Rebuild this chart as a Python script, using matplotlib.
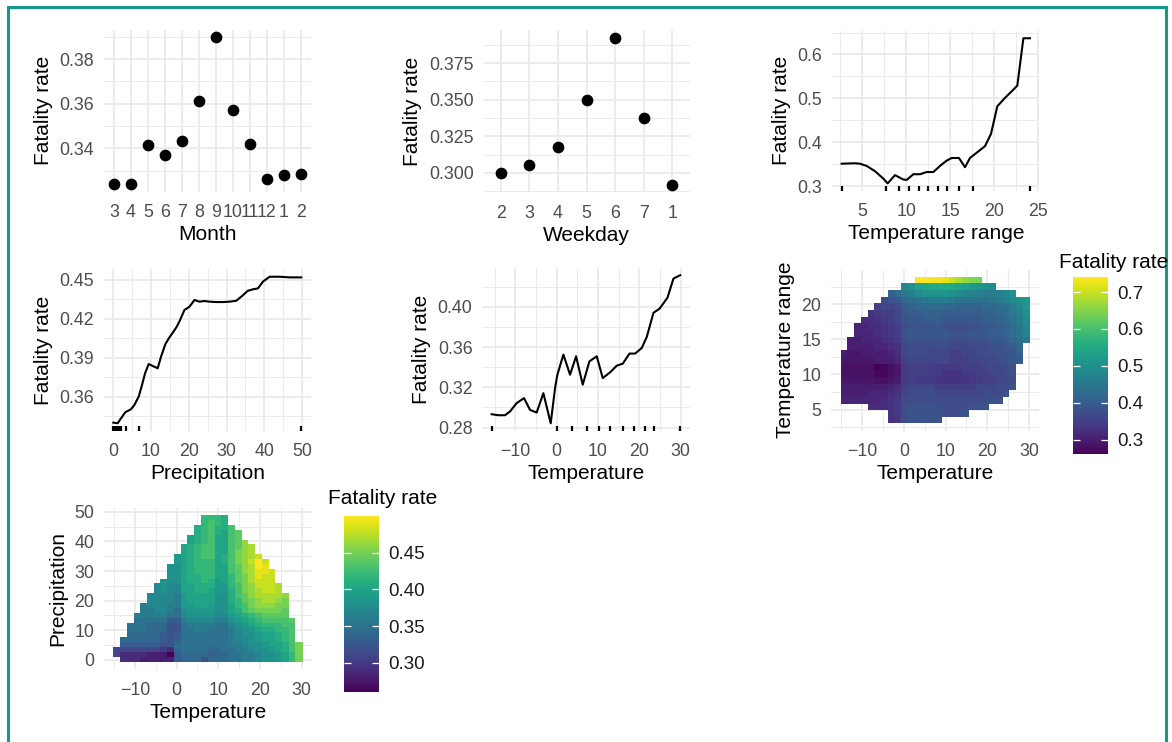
import numpy as np
import matplotlib
matplotlib.use("Agg")
import matplotlib.pyplot as plt
from matplotlib.ticker import MultipleLocator, AutoMinorLocator, FormatStrFormatter
from matplotlib.patches import Rectangle

plt.rcParams["font.family"] = ["Liberation Sans", "DejaVu Sans"]

# ---- partial dependence values ----
month_labels = ["3", "4", "5", "6", "7", "8", "9", "10", "11", "12", "1", "2"]
month_rate = [0.3239, 0.3239, 0.3413, 0.3369, 0.3433, 0.3612, 0.3898, 0.3571, 0.3419, 0.3264, 0.3279, 0.3286]

weekday_labels = ["2", "3", "4", "5", "6", "7", "1"]
weekday_rate = [0.3000, 0.3057, 0.3175, 0.3498, 0.3924, 0.3373, 0.2920]

trange_x = [2.65, 4.17, 4.73, 5.49, 6.44, 7.39, 7.88, 8.71, 9.66, 10.04, 10.8, 11.55, 12.31, 13.07, 13.83,
            14.58, 15.15, 15.98, 16.67, 17.23, 17.99, 18.94, 19.62, 20.34, 21.21, 21.97, 22.61, 23.3, 24.05]
trange_y = [0.351, 0.352, 0.351, 0.346, 0.334, 0.317, 0.306, 0.325, 0.315, 0.314, 0.327, 0.327, 0.332, 0.332, 0.346,
            0.358, 0.364, 0.364, 0.343, 0.364, 0.376, 0.391, 0.419, 0.482, 0.501, 0.516, 0.529, 0.637, 0.637]
trange_rug = [2.65, 7.69, 9.2, 10.34, 11.48, 12.5, 13.56, 14.66, 15.98, 17.54, 24.05]

precip_x = [0, 1.15, 2.04, 3.19, 4.69, 5.58, 6.73, 7.61, 8.41, 9.38, 10.44, 11.77, 12.65, 13.81, 14.87, 15.75,
            16.81, 17.7, 18.85, 20.18, 21.5, 22.83, 24.16, 25.49, 27.26, 29.03, 30.8, 32.57, 33.89, 35.66,
            36.99, 38.32, 39.65, 41.42, 44.07, 46.73, 49.82]
precip_y = [0.340, 0.3395, 0.3433, 0.348, 0.3503, 0.3536, 0.360, 0.369, 0.3779, 0.3851, 0.3836, 0.3818, 0.3908,
            0.4005, 0.4056, 0.4092, 0.4138, 0.419, 0.4267, 0.4292, 0.4344, 0.4331, 0.4336, 0.4331, 0.4328,
            0.4328, 0.4331, 0.4338, 0.4369, 0.4415, 0.4426, 0.4433, 0.4485, 0.4523, 0.4523, 0.4518, 0.4518]
precip_rug = [0, 0.3, 0.6, 0.9, 1.2, 1.5, 2.0, 3.4, 6.9, 49.8]

temp_x = [-15.76, -14.14, -12.53, -11.31, -9.7, -7.92, -6.46, -4.85, -3.23, -1.45, -0.4, 0.16, 1.62, 3.23,
          4.69, 6.3, 7.92, 9.7, 11.15, 12.93, 14.55, 16.0, 17.62, 18.99, 20.6, 21.82, 23.43, 24.89, 26.83,
          28.28, 29.9]
temp_y = [0.2933, 0.2923, 0.2923, 0.296, 0.3043, 0.3093, 0.2976, 0.295, 0.3142, 0.2843, 0.3192, 0.3325,
          0.3525, 0.3325, 0.3508, 0.3226, 0.3458, 0.3508, 0.3292, 0.3349, 0.3415, 0.3435, 0.3535, 0.3535,
          0.3591, 0.3701, 0.394, 0.398, 0.409, 0.428, 0.4313]
temp_rug = [-15.76, 0.16, 3.8, 7.27, 10.34, 12.93, 16.0, 18.75, 21.41, 23.6, 29.9]

# 2-D grids (fatality rate x100, 0 = outside the convex hull)
temp_grid = [-14.4, -12.8, -11.2, -9.5, -7.9, -6.3, -4.7, -3.1, -1.4, 0.2, 1.8, 3.4, 5.1, 6.7,
             8.3, 9.9, 11.5, 13.2, 14.8, 16.4, 18.0, 19.6, 21.3, 22.9, 24.5, 26.1, 27.7, 29.4]
trange_grid = [3.5, 4.4, 5.4, 6.3, 7.3, 8.2, 9.2, 10.1, 11.1, 12.0, 13.0, 13.9, 14.9, 15.8, 16.8,
               17.7, 18.7, 19.6, 20.6, 21.5, 22.5, 23.4]
precip_grid = [0.2, 1.9, 3.5, 5.2, 6.8, 8.5, 10.1, 11.8, 13.4, 15.1, 16.7, 18.4, 20.0, 21.7, 23.3,
               25.0, 26.6, 28.3, 29.9, 31.6, 33.2, 34.9, 36.5, 38.2, 39.8, 41.5, 43.1, 44.8, 46.4, 48.1]

temp_trange_rate = [  # bottom row first
    [0, 0, 0, 0, 0, 0, 0, 33, 34, 37, 38, 38, 38, 38, 38, 0, 0, 0, 0, 0, 0, 0, 0, 0, 0, 0, 0, 0],
    [0, 0, 0, 0, 0, 0, 0, 33, 34, 37, 38, 38, 38, 38, 38, 37, 37, 37, 38, 0, 0, 0, 0, 0, 0, 0, 0, 0],
    [0, 0, 0, 0, 32, 32, 32, 33, 34, 37, 38, 38, 38, 38, 37, 37, 37, 37, 37, 38, 38, 38, 0, 0, 0, 0, 0, 0],
    [31, 31, 31, 31, 31, 31, 32, 33, 34, 37, 37, 37, 37, 37, 37, 37, 37, 37, 37, 37, 37, 37, 38, 38, 0, 0, 0, 0],
    [30, 30, 30, 30, 31, 31, 31, 32, 33, 36, 37, 37, 37, 37, 36, 36, 36, 36, 36, 36, 36, 37, 37, 37, 38, 0, 0, 0],
    [30, 30, 30, 30, 30, 30, 30, 31, 32, 35, 36, 36, 36, 36, 35, 35, 35, 35, 35, 35, 36, 36, 36, 37, 37, 38, 0, 0],
    [29, 29, 29, 29, 29, 28, 28, 29, 30, 34, 35, 34, 34, 34, 33, 33, 33, 33, 33, 34, 34, 35, 35, 36, 36, 37, 0, 0],
    [28, 28, 28, 28, 28, 27, 27, 28, 29, 34, 35, 35, 35, 34, 34, 33, 33, 33, 34, 34, 35, 35, 36, 36, 37, 38, 0, 0],
    [28, 28, 28, 28, 28, 26, 27, 28, 29, 34, 35, 35, 35, 35, 34, 34, 34, 34, 35, 35, 35, 36, 36, 37, 37, 38, 0, 0],
    [29, 29, 29, 29, 29, 30, 30, 30, 31, 35, 36, 36, 36, 36, 36, 36, 35, 35, 35, 36, 36, 36, 37, 37, 38, 39, 40, 0],
    [30, 29, 29, 30, 30, 30, 30, 31, 32, 36, 37, 37, 37, 36, 36, 36, 35, 35, 36, 36, 37, 37, 37, 38, 38, 39, 41, 0],
    [0, 30, 30, 30, 30, 31, 31, 32, 33, 36, 37, 37, 37, 37, 37, 37, 36, 36, 36, 37, 37, 37, 38, 38, 39, 40, 42, 0],
    [0, 30, 30, 31, 31, 31, 32, 33, 34, 37, 38, 38, 38, 38, 38, 38, 37, 37, 37, 38, 38, 38, 39, 39, 40, 42, 43, 45],
    [0, 0, 31, 31, 31, 32, 33, 34, 35, 38, 39, 39, 39, 39, 39, 39, 38, 38, 38, 39, 39, 39, 40, 40, 41, 43, 45, 47],
    [0, 0, 31, 31, 32, 32, 33, 34, 35, 37, 38, 38, 38, 38, 39, 38, 37, 37, 37, 38, 38, 39, 39, 40, 41, 43, 45, 48],
    [0, 0, 0, 32, 32, 33, 34, 35, 36, 38, 39, 39, 40, 40, 40, 39, 39, 39, 39, 39, 39, 40, 40, 41, 42, 44, 46, 49],
    [0, 0, 0, 0, 33, 34, 35, 35, 36, 39, 40, 40, 41, 41, 41, 40, 40, 40, 40, 40, 40, 41, 41, 42, 43, 45, 47, 50],
    [0, 0, 0, 0, 0, 35, 36, 36, 37, 40, 41, 42, 42, 43, 43, 42, 42, 41, 41, 41, 41, 42, 42, 43, 44, 46, 48, 51],
    [0, 0, 0, 0, 0, 0, 37, 38, 39, 42, 43, 44, 45, 46, 46, 46, 45, 44, 44, 44, 44, 44, 45, 46, 47, 49, 50, 52],
    [0, 0, 0, 0, 0, 0, 0, 41, 43, 45, 47, 49, 50, 51, 51, 51, 50, 49, 48, 47, 47, 46, 46, 47, 48, 50, 0, 0],
    [0, 0, 0, 0, 0, 0, 0, 0, 0, 48, 50, 53, 54, 55, 55, 55, 55, 54, 53, 52, 51, 50, 49, 0, 0, 0, 0, 0],
    [0, 0, 0, 0, 0, 0, 0, 0, 0, 0, 0, 74, 74, 73, 73, 72, 70, 68, 66, 65, 64, 0, 0, 0, 0, 0, 0, 0],
]

temp_precip_rate = [  # bottom row first
    [0, 29, 29, 29, 28, 28, 28, 28, 28, 33, 34, 34, 34, 32, 34, 34, 34, 35, 35, 36, 36, 37, 38, 38, 39, 40, 42, 45],
    [31, 29, 29, 29, 29, 28, 28, 28, 26, 33, 34, 34, 34, 34, 33, 34, 34, 35, 35, 36, 36, 37, 38, 38, 39, 40, 42, 45],
    [31, 31, 31, 31, 31, 31, 31, 30, 29, 34, 35, 35, 35, 35, 34, 34, 35, 35, 36, 36, 37, 38, 38, 39, 40, 41, 43, 45],
    [0, 33, 33, 33, 33, 33, 33, 32, 32, 34, 35, 35, 35, 35, 35, 35, 35, 36, 36, 37, 38, 38, 39, 40, 40, 41, 43, 45],
    [0, 34, 34, 34, 34, 34, 34, 33, 32, 33, 35, 35, 35, 35, 35, 35, 35, 36, 37, 37, 38, 39, 40, 40, 41, 42, 43, 0],
    [0, 0, 34, 34, 34, 34, 34, 33, 32, 33, 35, 35, 35, 35, 35, 35, 35, 36, 37, 38, 38, 39, 40, 40, 41, 42, 43, 0],
    [0, 0, 35, 35, 35, 34, 34, 34, 32, 32, 35, 35, 36, 36, 35, 35, 35, 36, 37, 38, 39, 40, 41, 41, 42, 42, 43, 0],
    [0, 0, 35, 35, 35, 34, 34, 34, 32, 32, 35, 36, 36, 36, 36, 35, 35, 37, 38, 39, 40, 41, 42, 42, 42, 43, 43, 0],
    [0, 0, 0, 35, 35, 35, 35, 35, 33, 33, 36, 37, 37, 37, 37, 36, 36, 38, 39, 40, 41, 42, 43, 43, 43, 43, 44, 0],
    [0, 0, 0, 36, 36, 36, 36, 36, 35, 35, 37, 38, 38, 38, 38, 37, 37, 39, 40, 41, 42, 43, 44, 44, 44, 44, 0, 0],
    [0, 0, 0, 0, 36, 36, 37, 37, 36, 35, 38, 39, 39, 39, 39, 38, 38, 40, 41, 43, 44, 45, 45, 45, 45, 44, 0, 0],
    [0, 0, 0, 0, 36, 37, 37, 37, 36, 36, 39, 39, 40, 40, 39, 38, 38, 40, 42, 43, 45, 46, 46, 46, 45, 45, 0, 0],
    [0, 0, 0, 0, 0, 37, 37, 37, 37, 36, 39, 40, 40, 40, 40, 38, 38, 41, 42, 44, 45, 46, 47, 47, 46, 45, 0, 0],
    [0, 0, 0, 0, 0, 37, 37, 37, 37, 36, 39, 40, 40, 40, 40, 38, 38, 41, 43, 44, 46, 47, 47, 47, 47, 46, 0, 0],
    [0, 0, 0, 0, 0, 0, 37, 38, 37, 37, 40, 40, 41, 41, 40, 39, 39, 41, 43, 45, 46, 47, 48, 48, 47, 0, 0, 0],
    [0, 0, 0, 0, 0, 0, 37, 38, 37, 37, 40, 40, 41, 41, 41, 39, 39, 42, 43, 45, 46, 48, 48, 48, 47, 0, 0, 0],
    [0, 0, 0, 0, 0, 0, 0, 38, 38, 38, 40, 41, 41, 42, 41, 39, 40, 42, 44, 45, 47, 48, 48, 48, 0, 0, 0, 0],
    [0, 0, 0, 0, 0, 0, 0, 0, 38, 38, 40, 41, 41, 42, 42, 40, 40, 42, 44, 45, 47, 49, 48, 48, 0, 0, 0, 0],
    [0, 0, 0, 0, 0, 0, 0, 0, 38, 38, 40, 41, 42, 42, 42, 40, 40, 43, 44, 46, 47, 49, 49, 48, 0, 0, 0, 0],
    [0, 0, 0, 0, 0, 0, 0, 0, 38, 38, 40, 41, 42, 42, 42, 40, 40, 43, 44, 46, 47, 50, 49, 0, 0, 0, 0, 0],
    [0, 0, 0, 0, 0, 0, 0, 0, 0, 39, 40, 41, 42, 42, 42, 40, 41, 43, 45, 46, 48, 50, 48, 0, 0, 0, 0, 0],
    [0, 0, 0, 0, 0, 0, 0, 0, 0, 39, 40, 41, 42, 43, 43, 40, 41, 43, 45, 46, 47, 48, 0, 0, 0, 0, 0, 0],
    [0, 0, 0, 0, 0, 0, 0, 0, 0, 0, 40, 41, 42, 43, 43, 40, 40, 43, 45, 46, 47, 0, 0, 0, 0, 0, 0, 0],
    [0, 0, 0, 0, 0, 0, 0, 0, 0, 0, 40, 41, 42, 43, 43, 40, 40, 43, 44, 46, 47, 0, 0, 0, 0, 0, 0, 0],
    [0, 0, 0, 0, 0, 0, 0, 0, 0, 0, 0, 40, 41, 42, 43, 40, 40, 43, 44, 46, 0, 0, 0, 0, 0, 0, 0, 0],
    [0, 0, 0, 0, 0, 0, 0, 0, 0, 0, 0, 40, 41, 42, 43, 40, 40, 43, 44, 0, 0, 0, 0, 0, 0, 0, 0, 0],
    [0, 0, 0, 0, 0, 0, 0, 0, 0, 0, 0, 0, 41, 42, 43, 41, 40, 43, 44, 0, 0, 0, 0, 0, 0, 0, 0, 0],
    [0, 0, 0, 0, 0, 0, 0, 0, 0, 0, 0, 0, 41, 42, 43, 41, 41, 43, 0, 0, 0, 0, 0, 0, 0, 0, 0, 0],
    [0, 0, 0, 0, 0, 0, 0, 0, 0, 0, 0, 0, 0, 42, 43, 42, 41, 0, 0, 0, 0, 0, 0, 0, 0, 0, 0, 0],
    [0, 0, 0, 0, 0, 0, 0, 0, 0, 0, 0, 0, 0, 42, 42, 42, 41, 0, 0, 0, 0, 0, 0, 0, 0, 0, 0, 0],
]

TICK = "#4d4d4d"
GRID = "#ebebeb"
W, H = 1172, 742


def px_axes(fig, left, top, right, bottom):
    # axes box given in pixels measured from the top-left corner
    return fig.add_axes([left / W, 1 - bottom / H, (right - left) / W, (bottom - top) / H])


def style(ax, xstep=None, ystep=None, yfmt=None):
    for s in ax.spines.values():
        s.set_visible(False)
    ax.tick_params(which="both", length=0, labelsize=12.8, labelcolor=TICK, pad=7)
    ax.tick_params(axis="x", pad=9)
    if xstep:
        ax.xaxis.set_major_locator(MultipleLocator(xstep))
        ax.xaxis.set_minor_locator(AutoMinorLocator(2))
    if ystep:
        ax.yaxis.set_major_locator(MultipleLocator(ystep))
        ax.yaxis.set_minor_locator(AutoMinorLocator(2))
    if yfmt:
        ax.yaxis.set_major_formatter(FormatStrFormatter(yfmt))
    ax.grid(which="major", color=GRID, lw=1.3)
    ax.grid(which="minor", color=GRID, lw=0.7)
    ax.set_axisbelow(True)


def labels(ax, xl, yl):
    ax.set_xlabel(xl, fontsize=15, labelpad=3)
    ax.set_ylabel(yl, fontsize=15, labelpad=5)


def rug(ax, xs):
    for x in xs:
        ax.plot([x, x], [0, 0.03], color="black", lw=1.6, transform=ax.get_xaxis_transform(),
                solid_capstyle="butt")


def heat(fig, ax, xs, ys, rows, cax_box, ticks, fmt, title_xy):
    z = np.array(rows, dtype=float)
    z[z == 0] = np.nan
    z = np.ma.masked_invalid(z / 100)
    mesh = ax.pcolormesh(xs, ys, z, cmap="viridis", shading="nearest", antialiased=False)
    ax.use_sticky_edges = False
    ax.margins(0.05)
    cax = fig.add_axes(cax_box)
    cb = fig.colorbar(mesh, cax=cax)
    cb.outline.set_visible(False)
    cb.set_ticks(ticks)
    cax.yaxis.set_major_formatter(FormatStrFormatter(fmt))
    cax.tick_params(length=0, labelsize=13.5, labelcolor="#1a1a1a", pad=7)
    tr = cax.get_yaxis_transform()
    cax.hlines(ticks, 0, 0.2, colors="white", lw=0.9, transform=tr)
    cax.hlines(ticks, 0.8, 1.0, colors="white", lw=0.9, transform=tr)
    fig.text(title_xy[0] / W, 1 - title_xy[1] / H, "Fatality rate", fontsize=15,
             ha="left", va="center")


fig = plt.figure(figsize=(W / 100, H / 100), dpi=100)

# Month
ax = px_axes(fig, 103.8, 29.9, 311.2, 191.6)
pos = np.arange(1, len(month_labels) + 1)
ax.scatter(pos, month_rate, s=55, color="black", zorder=3)
ax.set_xticks(pos)
ax.set_xticklabels(month_labels)
ax.set_xlim(0.4, len(month_labels) + 0.6)
style(ax, ystep=0.02, yfmt="%.2f")
labels(ax, "Month", "Fatality rate")

# Weekday
ax = px_axes(fig, 483.5, 30.4, 689.5, 192.0)
pos = np.arange(1, len(weekday_labels) + 1)
ax.scatter(pos, weekday_rate, s=55, color="black", zorder=3)
ax.set_xticks(pos)
ax.set_xticklabels(weekday_labels)
ax.set_xlim(0.4, len(weekday_labels) + 0.6)
style(ax, ystep=0.025, yfmt="%.3f")
labels(ax, "Weekday", "Fatality rate")

# Temperature range
ax = px_axes(fig, 832.2, 31.0, 1039.4, 190.7)
ax.plot(trange_x, trange_y, color="black", lw=1.5)
rug(ax, trange_rug)
style(ax, xstep=5, ystep=0.1, yfmt="%.1f")
labels(ax, "Temperature range", "Fatality rate")

# Precipitation
ax = px_axes(fig, 103.9, 269.4, 310.7, 430.6)
ax.plot(precip_x, precip_y, color="black", lw=1.5)
rug(ax, precip_rug)
style(ax, xstep=10, ystep=0.03, yfmt="%.2f")
labels(ax, "Precipitation", "Fatality rate")

# Temperature
ax = px_axes(fig, 482.2, 267.8, 689.6, 430.7)
ax.plot(temp_x, temp_y, color="black", lw=1.5)
rug(ax, temp_rug)
style(ax, xstep=10, ystep=0.04, yfmt="%.2f")
labels(ax, "Temperature", "Fatality rate")

# Temperature x Temperature range
ax = px_axes(fig, 831.2, 269.7, 1039.4, 430.6)
heat(fig, ax, temp_grid, trange_grid, temp_trange_rate,
     [1073 / W, 1 - 454.3 / H, 35 / W, 177 / H], [0.3, 0.4, 0.5, 0.6, 0.7], "%.1f", (1059, 262))
style(ax, xstep=10, ystep=5)
labels(ax, "Temperature", "Temperature range")

# Temperature x Precipitation
ax = px_axes(fig, 103.9, 507.6, 312.0, 669.1)
heat(fig, ax, temp_grid, precip_grid, temp_precip_rate,
     [344 / W, 1 - 692.3 / H, 35 / W, 176.3 / H], [0.30, 0.35, 0.40, 0.45], "%.2f", (328, 498))
style(ax, xstep=10, ystep=10)
labels(ax, "Temperature", "Precipitation")

# teal frame
fig.patches.append(Rectangle((8 / W, -0.02), (1166 - 8) / W, 1.02 - 6.5 / H, transform=fig.transFigure,
                             fill=False, edgecolor="#17998a", lw=2.2))

fig.savefig("out.png", dpi=100)
